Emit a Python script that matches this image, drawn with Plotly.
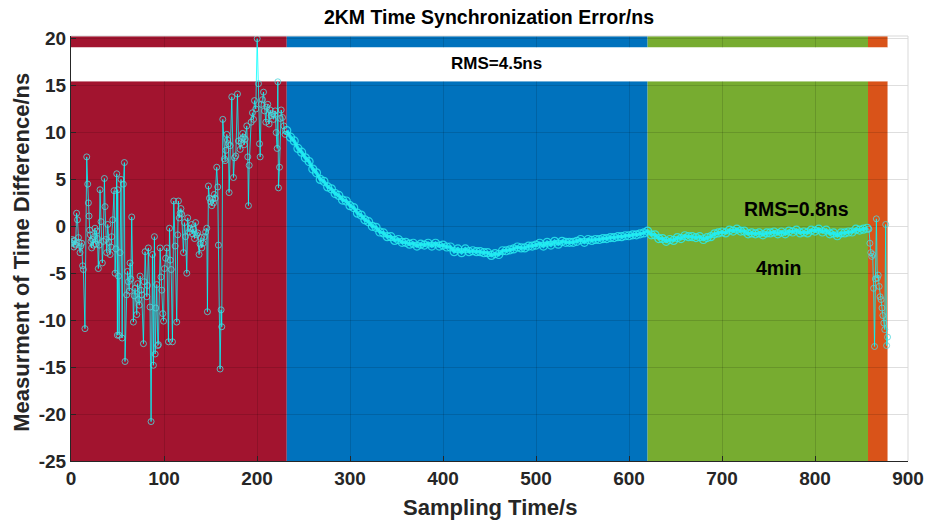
import plotly.graph_objects as go

# ---------------- data ----------------
# region boundaries (s)
region_edges = [0, 232, 620, 857, 878]
region_colors = ["#A2142F", "#0072BD", "#77AC30", "#D95319"]

# noisy start (red region)
t_red = [0.7, 1.5, 2, 3, 3.6, 4.3, 5, 6, 7, 8, 8.5, 9.7, 10.5, 11.5, 12.5, 13.3, 15, 16.9, 18,
         18.7, 19.4, 20.1, 20.8, 21.5, 22.2, 23, 24, 25, 25.8, 26.7, 27.6, 28.5, 29.4, 30.3,
         31.2, 32.3, 33.7, 34.8, 35.9, 36.6, 37.5, 38.4, 39.5, 40.7, 42, 42.9, 43.8, 44.9,
         46.3, 47.4, 48.3, 49.2, 49.9, 50.2, 51, 51.7, 52.7, 53.8, 55, 56.3, 57.4, 58.1,
         59.9, 60.8, 61.7, 62.6, 63.5, 64.4, 65.3, 67.1, 68, 68.9, 70.7, 71.6, 72.5, 73.4,
         74.3, 75.2, 76.1, 77.9, 78.8, 79.7, 81.5, 82.3, 83.2, 85, 86.1, 87.6, 88.6, 89.7,
         90.5, 91.1, 92.2, 93.3, 94, 95.8, 96.7, 97.6, 98.7, 99.5, 100.5, 101.8, 103,
         104.8, 105.9, 106.8, 107.7, 109.1, 110.5, 112, 113.7, 114.8, 115.5, 116.4, 117.3,
         118.2, 119, 120.9, 122, 123.2, 124.5, 125.5, 126.7, 128, 129.8, 130.7, 131.6,
         132.8, 134, 135.2, 136.3, 137.7, 138.8, 139.7, 140.6, 142, 143.5, 144.8, 146,
         146.7, 147.8, 148.9, 150.2, 151.4, 152.3, 153.2, 154.1, 155, 156.7, 157.8, 158.5,
         160.3, 161.4, 162.1, 163.2, 165, 165.7, 166.6, 167.5, 168.4, 169.3, 170, 171.1,
         172.9, 174.7, 175.8, 177.2, 179, 180.1, 181.9, 182.8, 183.7, 184.6, 185.5, 186.4,
         187.3, 189, 190.1, 190.8, 191.6, 193.7, 195.1, 196.2, 197.3, 198.7, 200.2, 201.6,
         202.7, 203.4, 204.5, 205.9, 207, 208.1, 209.5, 210.6, 211.6, 213, 214.1, 215.2,
         216.7, 217.8, 218.7, 219.6, 220.6, 221.7, 222.4, 223.1, 224.2, 225.1, 226, 227.4,
         228.9, 230.3]
v_red = [-1.8, -1.4, -1.6, -2.2, -1.5, -1.9, -2.0, 1.4, 0.7, -1.2, -1.7, -2.8, -2.1, -1.8,
         -4.2, -4.6, -10.9, 7.4, 4.5, 2.5, 1.1, -0.4, -0.9, -1.6, -2.3, -1.4, -2.0, -1.1,
         -0.2, -1.9, -0.5, -1.3, -4.5, -2.0, 3.9, 0.5, -3.9, -1.6, 5.1, 2.1, -1.4, -2.8, 0.2,
         -1.7, -3.0, -2.2, -1.1, 0.7, 3.8, -5.0, -2.4, 5.6, -11.6, 3.9, -5.3, -11.6, -2.8,
         5.0, -11.9, 4.5, 6.8, -14.4, -7.3, -4.8, -5.9, -6.9, -3.9, -5.6, 1.0, -10.2, -7.4,
         -6.6, -9.4, -6.1, -7.8, -8.4, -5.3, -6.8, -7.3, -12.5, -5.9, -2.7, -7.5, -6.3, -2.3,
         -8.6, -20.8, -3.0, -14.8, -1.1, -13.6, -8.7, -6.2, -12.7, -12.6, -2.3, -5.4, -6.8,
         -9.3, -10.1, -4.5, -3.4, -2.3, -12.3, -0.2, -3.6, -4.6, -12.3, 2.7, -2.1, -10.2,
         -0.9, 2.7, 0.9, 1.4, 1.9, 1.3, -2.8, 0.4, -1.1, -5.0, 0.9, -0.6, -0.2, 0.2, -0.8,
         -0.3, -1.3, 0.4, -0.9, -0.7, -3.0, -1.9, -1.2, -2.3, -1.8, -1.1, -0.6, -0.2, -9.1,
         4.3, 3.0, 2.6, 2.2, 2.9, 2.5, 3.4, 3.0, 6.3, 4.2, -2.0, -15.2, -8.9, -10.7, 11.4,
         7.2, 7.0, 8.1, 9.8, 9.2, 8.8, 3.6, 8.6, 13.8, 5.2, 7.3, 7.5, 14.1, 9.1, 8.2, 8.9,
         9.3, 9.9, 9.5, 8.7, 9.3, 10.7, 7.4, 2.2, 6.5, 11.1, 12.1, 11.4, 13.4, 12.5, 20.0,
         15.2, 8.8, 7.4, 13.0, 13.5, 14.3, 12.3, 11.1, 12.7, 13.0, 10.9, 12.4, 11.8, 12.0,
         11.4, 11.9, 12.3, 10.0, 8.3, 15.4, 4.1, 6.3, 11.5, 12.4, 11.6, 10.7, 9.8]

# convergence (blue region), every 4 s from 232 s
t_blue = list(range(232, 621, 4))
v_blue = [10.2, 9.5, 9.1, 8.3, 7.9, 7.3, 6.9, 6.1, 5.7, 5.0, 4.8, 4.2, 4.0, 3.5, 3.3, 2.8,
          2.7, 2.2, 2.0, 1.4, 1.2, 0.7, 0.5, 0.0, -0.1, -0.6, -0.7, -1.1, -1.1, -1.5, -1.4,
          -1.7, -1.7, -1.9, -1.8, -2.1, -1.9, -2.0, -1.8, -2.1, -1.8, -2.1, -2.0, -2.2, -2.2,
          -2.7, -2.4, -2.8, -2.4, -2.7, -2.6, -2.7, -2.7, -2.8, -2.8, -3.1, -2.9, -3.0, -2.6,
          -2.6, -2.5, -2.4, -2.2, -2.3, -2.3, -2.1, -2.1, -2.0, -1.8, -2.1, -1.7, -2.0, -1.6,
          -1.9, -1.6, -1.7, -1.7, -1.7, -1.6, -1.4, -1.7, -1.4, -1.5, -1.4, -1.4, -1.3, -1.3,
          -1.2, -1.2, -1.1, -1.1, -1.0, -1.0, -0.9, -0.9, -0.8, -0.7, -0.5]

# steady state (green region), every 4 s from 624 s
t_green = list(range(624, 857, 4))
v_green = [-0.9, -0.9, -1.3, -1.3, -1.6, -1.4, -1.5, -1.2, -1.3, -1.0, -1.1, -1.1, -1.2, -1.1,
           -1.4, -1.2, -1.1, -0.8, -0.7, -0.6, -0.7, -0.4, -0.5, -0.3, -0.5, -0.5, -0.8, -0.7,
           -0.8, -0.7, -0.9, -0.7, -0.7, -0.6, -0.8, -0.6, -0.8, -0.5, -0.6, -0.4, -0.7, -0.6,
           -0.7, -0.4, -0.5, -0.3, -0.6, -0.4, -0.8, -0.7, -1.0, -0.7, -0.7, -0.6, -0.6, -0.3,
           -0.4, -0.3, -0.2]

# loss of lock (orange region)
t_orange = list(range(858, 879))
v_orange = [-0.3, -1.8, -2.8, -3.2, -3.0, -6.6, -12.8, -5.6, 0.8, -5.5, -5.2, -6.4, -7.5,
            -7.8, -8.7, -9.5, -10.3, -11.0, 0.2, -12.7, -11.8]

x_ticks = [0, 100, 200, 300, 400, 500, 600, 700, 800, 900]
y_ticks = [20, 15, 10, 5, 0, -5, -10, -15, -20, -25]

labels = {
    "title": "2KM Time Synchronization Error/ns",
    "x": "Sampling Time/s",
    "y": "Measurment of Time Difference/ns",
    "rms_all": "RMS=4.5ns",
    "rms_steady": "RMS=0.8ns",
    "duration": "4min",
}

# ---------------- figure ----------------
FONT = "Liberation Sans, Arial, sans-serif"
Y_TOP = 20.28
BAND_LO, BAND_HI = 15.45, 19.05

fig = go.Figure()
fig.add_trace(go.Scatter(
    x=t_red + t_blue + t_green + t_orange, y=v_red + v_blue + v_green + v_orange,
    mode="lines", line=dict(color="rgba(0,255,255,0.8)", width=1),
    showlegend=False, hoverinfo="skip",
))
# smooth parts: thicker bright band under the markers
fig.add_trace(go.Scatter(
    x=t_blue + t_green, y=v_blue + v_green, mode="lines",
    line=dict(color="rgba(30,240,245,0.9)", width=3.5),
    showlegend=False, hoverinfo="skip",
))
fig.add_trace(go.Scatter(
    x=t_red + t_orange, y=v_red + v_orange, mode="markers",
    marker=dict(symbol="circle-open", size=6, color="rgba(80,215,220,0.8)", line=dict(width=1)),
    showlegend=False, hoverinfo="x+y",
))
fig.add_trace(go.Scatter(
    x=t_blue + t_green, y=v_blue + v_green, mode="markers",
    marker=dict(symbol="circle-open", size=8, color="rgba(40,235,240,0.85)", line=dict(width=1.2)),
    showlegend=False, hoverinfo="x+y",
))

shapes = []
for i, c in enumerate(region_colors):
    x0, x1 = region_edges[i], region_edges[i + 1]
    shapes.append(dict(type="rect", xref="x", yref="y", x0=x0, x1=x1, y0=-25, y1=BAND_LO,
                       fillcolor=c, line=dict(width=0), layer="below"))
    shapes.append(dict(type="rect", xref="x", yref="y", x0=x0, x1=x1, y0=BAND_HI, y1=Y_TOP,
                       fillcolor=c, line=dict(width=0), layer="below"))
shapes.append(dict(type="rect", xref="x", yref="y", x0=0, x1=region_edges[-1],
                   y0=BAND_LO, y1=BAND_HI, fillcolor="white", line=dict(width=0),
                   layer="between"))
shapes.append(dict(type="line", xref="paper", yref="paper", x0=0, x1=1, y0=1, y1=1,
                   line=dict(color="#d9d9d9", width=1), layer="above"))
shapes.append(dict(type="line", xref="paper", yref="paper", x0=1, x1=1, y0=0, y1=1,
                   line=dict(color="#d9d9d9", width=1), layer="above"))

annotations = [
    dict(text=labels["x"], xref="paper", yref="paper", x=0.5, y=-0.11, showarrow=False,
         font=dict(family=FONT, size=22, color="#262626", weight="bold"), yanchor="middle"),
    dict(text=labels["y"], xref="paper", yref="paper", x=-0.0585, y=0.49, showarrow=False,
         textangle=-90, font=dict(family=FONT, size=22, color="#262626", weight="bold"),
         xanchor="center", yanchor="middle"),
    dict(text=labels["rms_all"], xref="x", yref="y", x=457, y=17.35, showarrow=False,
         font=dict(family=FONT, size=17, color="black", weight="bold")),
    dict(text=labels["rms_steady"], xref="x", yref="y", x=780, y=1.85, showarrow=False,
         font=dict(family=FONT, size=19.5, color="black", weight="bold")),
    dict(text=labels["duration"], xref="x", yref="y", x=761, y=-4.4, showarrow=False,
         font=dict(family=FONT, size=19.5, color="black", weight="bold")),
]

fig.update_layout(
    width=927, height=525,
    margin=dict(l=71, r=19, t=36, b=64, autoexpand=False),
    paper_bgcolor="white", plot_bgcolor="white",
    title=dict(text=labels["title"], x=0.5275, xanchor="center", y=1 - 17 / 525,
               yanchor="middle", yref="container",
               font=dict(family=FONT, size=19.5, color="black", weight="bold")),
    shapes=shapes, annotations=annotations,
    xaxis=dict(range=[0, 900], tickvals=x_ticks, ticktext=[str(v) for v in x_ticks],
               automargin=False,
               showgrid=True, gridcolor="rgba(0,0,0,0.13)", gridwidth=1,
               zeroline=False, showline=True, linecolor="#262626", linewidth=1,
               ticks="inside", ticklen=5, tickcolor="#262626",
               tickfont=dict(family=FONT, size=19, color="#262626", weight="bold")),
    yaxis=dict(range=[-25, Y_TOP], tickvals=y_ticks, ticktext=[str(v) for v in y_ticks],
               automargin=False,
               showgrid=True, gridcolor="rgba(0,0,0,0.13)", gridwidth=1,
               zeroline=False, showline=True, linecolor="#262626", linewidth=1,
               ticks="inside", ticklen=5, tickcolor="#262626",
               tickfont=dict(family=FONT, size=19, color="#262626", weight="bold")),
)

fig.write_html("out.html")
